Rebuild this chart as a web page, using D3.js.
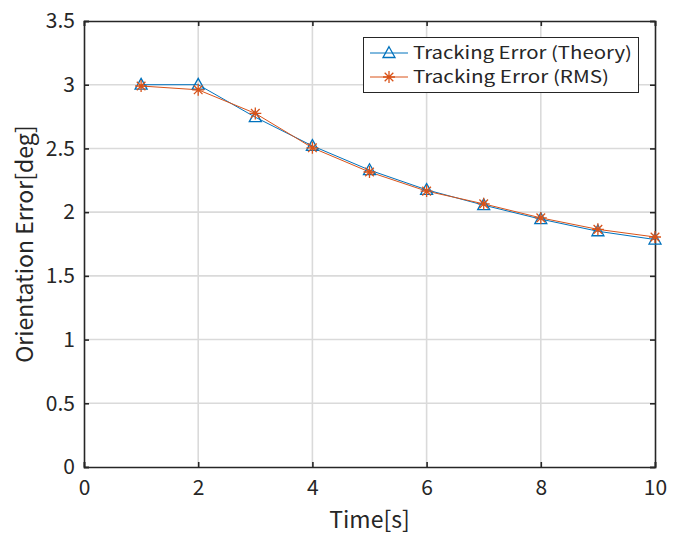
<!DOCTYPE html>
<html><head><meta charset="utf-8">
<script src="https://cdn.jsdelivr.net/npm/d3@7"></script>
<style>body{margin:0;background:#fff}svg{display:block}text{font-family:"Noto Sans CJK JP","Noto Sans",sans-serif;fill:#262626}</style>
</head><body>
<svg id="c" width="674" height="535"></svg>
<script>
const times = [1,2,3,4,5,6,7,8,9,10];
const theory = [3.00,3.00,2.745,2.52,2.33,2.175,2.055,1.945,1.85,1.785];
const rms = [2.99,2.96,2.775,2.505,2.315,2.165,2.065,1.955,1.865,1.805];
const xTicks = [0,2,4,6,8,10];
const yTicks = [0,0.5,1,1.5,2,2.5,3,3.5];
const seriesNames = ["Tracking Error (Theory)","Tracking Error (RMS)"];

const svg = d3.select("#c");
const L=84,R=655,T=21,B=467;
const x = d3.scaleLinear().domain([0,10]).range([L,R]);
const y = d3.scaleLinear().domain([0,3.5]).range([B,T]);
const blue="#0072BD", orange="#D95319";

// grid
svg.append("g").selectAll("line").data(xTicks.slice(1,-1)).join("line")
  .attr("x1",d=>x(d)).attr("x2",d=>x(d)).attr("y1",T).attr("y2",B)
  .attr("stroke","#dadada").attr("stroke-width",1.6);
svg.append("g").selectAll("line").data(yTicks.slice(1,-1)).join("line")
  .attr("y1",d=>y(d)).attr("y2",d=>y(d)).attr("x1",L).attr("x2",R)
  .attr("stroke","#dadada").attr("stroke-width",1.6);

// axes
const fs=21;
const ax = svg.append("g").attr("transform",`translate(0,${B})`)
  .call(d3.axisBottom(x).tickValues(xTicks).tickSize(-5).tickPadding(13));
const ay = svg.append("g").attr("transform",`translate(${L},0)`)
  .call(d3.axisLeft(y).tickValues(yTicks).tickSize(-5).tickPadding(9).tickFormat(d3.format("")));
const at = svg.append("g").attr("transform",`translate(0,${T})`)
  .call(d3.axisTop(x).tickValues(xTicks).tickSize(-5).tickFormat(""));
const ar = svg.append("g").attr("transform",`translate(${R},0)`)
  .call(d3.axisRight(y).tickValues(yTicks).tickSize(-5).tickFormat(""));
[ax,ay,at,ar].forEach(g=>{
  g.selectAll("path").attr("stroke","#262626").attr("stroke-width",1.6);
  g.selectAll("line").attr("stroke","#262626").attr("stroke-width",1.6);
  g.selectAll("text").style("font-family",'"Noto Sans CJK JP","Noto Sans",sans-serif').style("font-size",fs+"px").attr("fill","#262626");
});

// labels
svg.append("text").attr("x",(L+R)/2).attr("y",528).attr("text-anchor","middle")
  .style("font-size","23px").text("Time[s]");
svg.append("text").attr("transform",`translate(33,${(T+B)/2}) rotate(-90)`).attr("text-anchor","middle")
  .style("font-size","23px").text("Orientation Error[deg]");

// lines
const line = d3.line().x((d,i)=>x(times[i])).y(d=>y(d));
svg.append("path").datum(theory).attr("d",line).attr("fill","none").attr("stroke",blue).attr("stroke-width",1);
svg.append("path").datum(rms).attr("d",line).attr("fill","none").attr("stroke",orange).attr("stroke-width",1);

function tri(cx,cy,s){
  return `M${cx},${cy-s*1.05}L${cx+s},${cy+s*0.75}L${cx-s},${cy+s*0.75}Z`;
}
function star(cx,cy,s){
  const d=s*0.72;
  return `M${cx-s},${cy}L${cx+s},${cy}M${cx},${cy-s}L${cx},${cy+s}M${cx-d},${cy-d}L${cx+d},${cy+d}M${cx-d},${cy+d}L${cx+d},${cy-d}`;
}
svg.append("g").selectAll("path").data(theory).join("path")
  .attr("d",(d,i)=>tri(x(times[i]),y(d),6)).attr("fill","none").attr("stroke",blue).attr("stroke-width",1.3);
svg.append("g").selectAll("path").data(rms).join("path")
  .attr("d",(d,i)=>star(x(times[i]),y(d),6)).attr("fill","none").attr("stroke",orange).attr("stroke-width",1.3);

// legend
const lg = svg.append("g");
lg.append("rect").attr("x",363.5).attr("y",37.5).attr("width",275).attr("height",55)
  .attr("fill","#fff").attr("stroke","#262626").attr("stroke-width",1);
const rows=[{c:blue,m:"t",yy:53,w:219},{c:orange,m:"s",yy:77,w:196}];
rows.forEach((r,i)=>{
  lg.append("line").attr("x1",370).attr("x2",408).attr("y1",r.yy).attr("y2",r.yy).attr("stroke",r.c).attr("stroke-width",1);
  lg.append("path").attr("d",r.m==="t"?tri(389,r.yy,6):star(389,r.yy,6)).attr("fill","none").attr("stroke",r.c).attr("stroke-width",1.3);
  lg.append("text").attr("x",413).attr("y",r.yy).attr("dy","0.36em").style("font-size","17px")
    .attr("textLength",r.w).attr("lengthAdjust","spacingAndGlyphs").text(seriesNames[i]);
});
</script>
</body></html>
